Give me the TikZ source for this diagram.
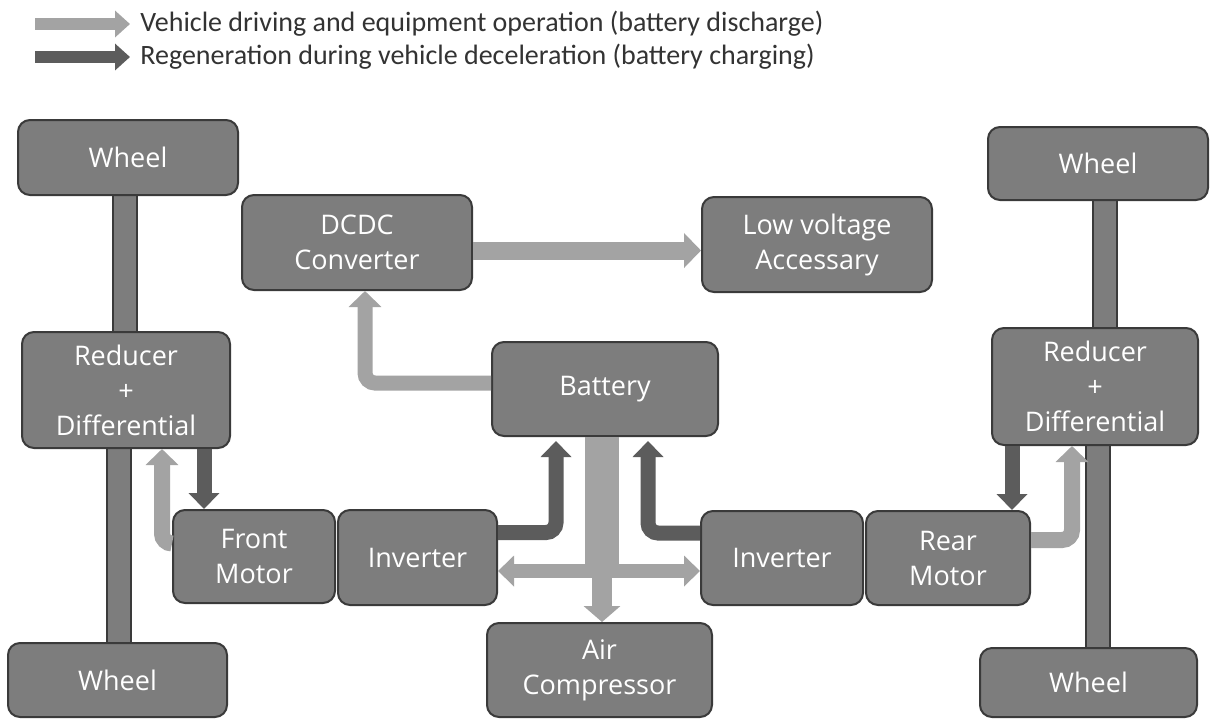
\documentclass[tikz,border=0pt]{standalone}
\usepackage{fontspec}
\newfontfamily\legfont{Carlito}
\newfontfamily\boxfont{Open Sans}
\usetikzlibrary{arrows.meta,calc}
\definecolor{boxgray}{HTML}{7D7D7D}
\definecolor{edgegray}{HTML}{3A3A3A}
\definecolor{lightarr}{HTML}{A3A3A3}
\definecolor{darkarr}{HTML}{5C5C5C}
\definecolor{legtext}{HTML}{333333}
\begin{document}
\begin{tikzpicture}[x=0.5pt,y=-0.5pt,
  box/.style={draw=edgegray, line width=1pt, fill=boxgray, rounded corners=6pt,
    text=white, font=\boxfont\fontsize{13.5}{17.5}\selectfont, align=center, inner sep=0pt},
  larrow/.style={draw=lightarr, line width=8pt, rounded corners=5pt,
    -{Triangle[length=8pt,width=16pt]}},
  darrow/.style={draw=darkarr, line width=7.5pt, rounded corners=5pt,
    -{Triangle[length=8pt,width=15pt]}},
  legarrow/.style={line width=6pt, -{Triangle[length=7.5pt,width=13pt]}},
  shaft/.style={draw=edgegray, line width=0.8pt, double=boxgray, double distance=11pt},
  legtxt/.style={anchor=west, inner sep=0pt, text=legtext, font=\legfont\fontsize{14}{16}\selectfont}
]
\fill[white] (0,0) rectangle (1210,719);
\useasboundingbox (0,0) rectangle (1210,719);

% legend
\node[legtxt] (leg1) at (140,24) {Vehicle driving and equipment operation (battery discharge)};
\node[legtxt] (leg2) at (140,57) {Regeneration during vehicle deceleration (battery charging)};
\coordinate (la1) at (35,24);
\coordinate (la2) at (35,57);
\draw[legarrow, draw=lightarr] (la1) -- ($(leg1.west)+(-10,0)$);
\draw[legarrow, draw=darkarr] (la2) -- ($(leg2.west)+(-10,0)$);

% node placement (coordinates only, boxes drawn after shafts)
\coordinate (cwTL) at (128,157.5);
\coordinate (cwTR) at (1098,163.5);
\coordinate (cwBL) at (117.5,680);
\coordinate (cwBR) at (1088.5,682.5);
\coordinate (crL) at (126,390);
\coordinate (crR) at (1095,386.5);

% shafts (behind boxes)
\draw[shaft] (125,196) -- (125,333);
\draw[shaft] (119,447) -- (119,644);
\draw[shaft] (1105,199) -- (1105,329);
\draw[shaft] (1098,444) -- (1098,649);

% boxes
\node[box, minimum width=110pt, minimum height=37.5pt] (wTL) at (cwTL) {Wheel};
\node[box, minimum width=110pt, minimum height=36.5pt] (wTR) at (cwTR) {Wheel};
\node[box, minimum width=109.5pt, minimum height=37pt] (wBL) at (cwBL) {Wheel};
\node[box, minimum width=108.5pt, minimum height=34.5pt] (wBR) at (cwBR) {Wheel};
\node[box, minimum width=104pt, minimum height=58pt] (rL) at (crL) {Reducer\\+\\Differential};
\node[box, minimum width=103pt, minimum height=58.5pt] (rR) at (crR) {Reducer\\+\\Differential};
\node[box, minimum width=115pt, minimum height=47.5pt] (dcdc) at (357,242.5) {DCDC\\Converter};
\node[box, minimum width=115pt, minimum height=47.5pt] (lv) at (817,244.5) {Low voltage\\Accessary};
\node[box, minimum width=113pt, minimum height=47pt] (bat) at (605,389) {Battery};
\node[box, minimum width=81pt, minimum height=46.5pt] (fm) at (254,556.5) {Front\\Motor};
\node[box, minimum width=79.5pt, minimum height=47.5pt] (invL) at (417.5,557.5) {Inverter};
\node[box, minimum width=81pt, minimum height=47pt] (invR) at (782,558) {Inverter};
\node[box, minimum width=82pt, minimum height=47pt] (rm) at (948,558) {Rear\\Motor};
\node[box, minimum width=112.5pt, minimum height=47pt] (ac) at (599.5,670) {Air\\Compressor};

% DCDC -> low voltage
\coordinate (d1) at ($(dcdc.east)+(0,8)$);
\draw[larrow, line width=9pt, -{Triangle[length=8.5pt,width=17pt]}] (d1) -- (d1 -| lv.west);

% battery -> DCDC
\draw[larrow, line width=7.5pt] ($(bat.west)+(0,-6)$) -| ($(dcdc.south)+(8,0)$);

% battery stem -> air compressor and inverters
\coordinate (st) at ($(bat.south)+(-3,0)$);
\draw[draw=lightarr, line width=17pt] (st) -- ($(st)+(0,140)$);
\draw[larrow, line width=10pt, -{Triangle[length=8pt,width=18pt]}] ($(st)+(0,120)$) -- (st |- ac.north);
\coordinate (hz) at ($(st)+(0,134)$);
\draw[larrow, line width=7pt, -{Triangle[length=8pt,width=15pt]}] (hz) -- (hz -| invL.east);
\draw[larrow, line width=7pt, -{Triangle[length=8pt,width=15pt]}] (hz) -- (hz -| invR.west);

% inverters -> battery (regeneration)
\draw[darrow, shorten >=2pt] ($(invL.east)+(0,-25)$) -| ($(bat.south)+(-49,0)$);
\draw[darrow, shorten >=2pt] ($(invR.west)+(0,-25)$) -| ($(bat.south)+(43,0)$);

% front side
\draw[larrow] ($(fm.west)+(0,-13)$) -| ($(rL.south)+(36,0)$);
\coordinate (dl) at ($(rL.south)+(78,0)$);
\draw[darrow] (dl) -- (dl |- fm.north);

% rear side
\coordinate (dr) at ($(rR.south)+(-83,0)$);
\draw[darrow] (dr) -- (dr |- rm.north);
\draw[larrow] ($(rm.east)+(0,-18)$) -| ($(rR.south)+(-23,0)$);
\end{tikzpicture}
\end{document}
